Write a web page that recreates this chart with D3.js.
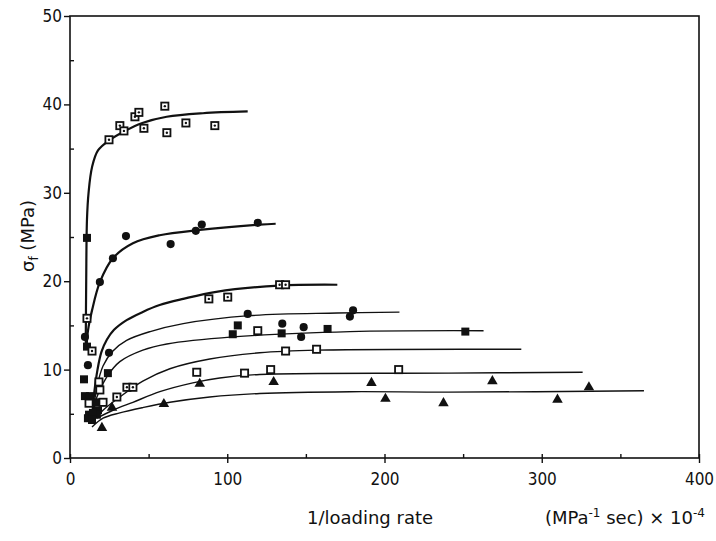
<!DOCTYPE html>
<html>
<head>
<meta charset="utf-8">
<script src="https://cdn.jsdelivr.net/npm/d3@7"></script>
<style>
body{margin:0;background:#fff;}
text{font-family:"DejaVu Sans Condensed","DejaVu Sans",sans-serif;fill:#111;}
</style>
</head>
<body>
<div id="canvas"></div>
<script>
// fitted curves: [1/loading rate, sigma_f]
var curve1 = [[10.0,12.5],[10.3,20],[10.8,27],[11.8,30],[14,32.9],[17.8,34.8],[25.4,36.0],[35,37.0],[46,37.9],[61.5,38.6],[84.5,39.0],[113,39.2]];
var curve2 = [[10.5,12.5],[11.5,14.5],[14,16.7],[19,19.9],[27.3,22.6],[40,24.3],[57,25.2],[82.5,25.8],[120.6,26.4],[130.8,26.5]];
var curve3 = [[14,4.5],[15.5,7.5],[17.5,10],[20,12],[23.5,13.4],[28,14.5],[36,15.6],[46,16.5],[57,17.3],[72,18.0],[93,18.8],[133,19.5],[170,19.6]];
var curve4 = [[14.6,5],[17.1,8],[21,10.4],[27.3,12.1],[36,13.3],[51,14.3],[72,15.2],[114,16.1],[170,16.4],[209.5,16.5]];
var curve5 = [[14.6,4.6],[17.1,6.9],[23.5,9.2],[31.7,10.9],[46.3,12.2],[61.6,12.9],[103.5,13.7],[178,14.3],[263,14.4]];
var curve6 = [[14.6,4.1],[21,5.4],[31.7,6.9],[46.3,8.7],[63.5,10.1],[88.9,11.2],[120.6,11.9],[157,12.2],[287,12.3]];
var curve7 = [[17.1,4.5],[27.3,5.4],[40,6.3],[57.1,7.5],[78.1,8.5],[95.2,9.05],[120.6,9.45],[241,9.6],[326,9.7]];
var curve8 = [[14,3.5],[21,4.5],[31.7,5.1],[46.3,5.7],[63.5,6.3],[88.9,6.9],[120.6,7.3],[178,7.5],[241,7.45],[365,7.6]];
var curves = [curve1,curve2,curve3,curve4,curve5,curve6,curve7,curve8];

// measured points by symbol
var dotSquares = [[10.8,15.8],[24.8,36.0],[31.7,37.6],[34.3,37.0],[41.3,38.6],[43.8,39.1],[47.0,37.3],[60.3,39.8],[61.6,36.8],[73.7,37.9],[92.1,37.6],
  [88.3,18.0],[100.3,18.2],[133.3,19.6],[137.1,19.6],[14,12.1],[29.8,6.9],[36.2,8.0],[40,8.0]];
var filledCircles = [[19,19.9],[27.3,22.6],[35.6,25.1],[64,24.2],[80,25.7],[83.8,26.4],[119.4,26.6],
  [113,16.3],[135,15.2],[148.6,14.8],[147,13.7],[178,16.0],[180,16.7],[9.5,13.7],[11.4,10.5],[24.8,11.9]];
var filledSquares = [[10.8,24.9],[106.7,15.0],[103.5,14.0],[134.6,14.1],[163.8,14.6],[251.4,14.3],
  [10.8,12.6],[24.1,9.6],[8.9,8.9],[9.5,7.0],[12.7,7.0],[17.1,6.3],[17.8,5.4],[12.1,4.9],[11.4,4.5],[17.1,4.9],[14.6,5.1],[14,4.3]];
var openSquares = [[119.4,14.4],[137.1,12.1],[156.8,12.3],[80.6,9.7],[111,9.6],[127.6,10.0],[209,10.0],
  [18.4,8.6],[19,7.7],[12.1,6.2],[21,6.3]];
var triangles = [[59.7,6.1],[82.5,8.4],[129.5,8.6],[191.7,8.5],[200.6,6.7],[237.5,6.2],[268.6,8.7],[310,6.6],[330,8.0],[26.7,5.7],[20.3,3.4]];

var xMajor = [0,100,200,300,400], xMinor = [50,150,250,350];
var yMajor = [0,10,20,30,40,50], yMinor = [5,15,25,35,45];

var m = {t:16,r:17,b:83,l:70},
    w = 716 - m.l - m.r,
    h = 541 - m.t - m.b;

var svg = d3.select('#canvas').append('svg')
    .attr('width',716).attr('height',541);
var plot = svg.append('g').attr('transform','translate('+m.l+','+m.t+')');

var x = d3.scaleLinear().domain([0,400]).range([0,w]);
var y = d3.scaleLinear().domain([0,50]).range([h,0]);

// frame
plot.append('rect').attr('width',w).attr('height',h)
    .attr('fill','none').attr('stroke','#111').attr('stroke-width',1.6);

// x axis
var gx = plot.append('g').attr('transform','translate(0,'+h+')')
    .call(d3.axisBottom(x).tickValues(xMajor).tickSize(5).tickPadding(10));
gx.selectAll('.tick line').attr('y1',-4).attr('y2',5);
plot.append('g').attr('transform','translate(0,'+h+')')
    .call(d3.axisBottom(x).tickValues(xMinor).tickSize(-4).tickFormat(''));

// y axis
var gy = plot.append('g')
    .call(d3.axisLeft(y).tickValues(yMajor).tickSize(6).tickPadding(2));
plot.append('g')
    .call(d3.axisLeft(y).tickValues(yMinor).tickSize(-4).tickFormat(''));

plot.selectAll('.domain').remove();
plot.selectAll('.tick line').attr('stroke','#111').attr('stroke-width',1.4);
plot.selectAll('.tick text').attr('font-size',17).attr('fill','#111')
    .style('font-family','"DejaVu Sans Condensed","DejaVu Sans",sans-serif');

// curves
var line = d3.line().x(function(d){return x(d[0]);}).y(function(d){return y(d[1]);})
    .curve(d3.curveCatmullRom.alpha(0.5));
plot.selectAll('.fit').data(curves).enter().append('path')
    .attr('class','fit')
    .attr('d',line)
    .attr('fill','none').attr('stroke','#111')
    .attr('stroke-width',function(d,i){return i<3 ? 2.2 : 1.4;});

// markers
function pos(d){return 'translate('+x(d[0])+','+y(d[1])+')';}

plot.selectAll('.fsq').data(filledSquares).enter().append('rect')
    .attr('x',-4).attr('y',-4).attr('width',8).attr('height',8)
    .attr('transform',pos).attr('fill','#111');

plot.selectAll('.osq').data(openSquares).enter().append('rect')
    .attr('x',-3.6).attr('y',-3.6).attr('width',7.2).attr('height',7.2)
    .attr('transform',pos).attr('fill','#fff').attr('stroke','#111').attr('stroke-width',1.8);

var ds = plot.selectAll('.dsq').data(dotSquares).enter().append('g').attr('transform',pos);
ds.append('rect').attr('x',-3.6).attr('y',-3.6).attr('width',7.2).attr('height',7.2)
    .attr('fill','#fff').attr('stroke','#111').attr('stroke-width',1.8);
ds.append('circle').attr('r',1.2).attr('fill','#111');

plot.selectAll('.fci').data(filledCircles).enter().append('path')
    .attr('d',d3.symbol().type(d3.symbolCircle).size(52))
    .attr('transform',pos).attr('fill','#111');

plot.selectAll('.tri').data(triangles).enter().append('path')
    .attr('d',d3.symbol().type(d3.symbolTriangle).size(48))
    .attr('transform',pos).attr('fill','#111');

// axis titles
var yl = svg.append('text').attr('transform','translate(34,236) rotate(-90)')
    .attr('text-anchor','middle').attr('font-size',18)
    .style('font-family','"DejaVu Sans",sans-serif');
yl.append('tspan').text('σ');
yl.append('tspan').attr('font-size',12).attr('dy',4).text('f');
yl.append('tspan').attr('dy',-4).text(' (MPa)');

svg.append('text').attr('x',370).attr('y',524).attr('text-anchor','middle')
    .attr('font-size',18).style('font-family','"DejaVu Sans",sans-serif')
    .text('1/loading rate');

var xu = svg.append('text').attr('x',705).attr('y',524).attr('text-anchor','end')
    .attr('font-size',18).style('font-family','"DejaVu Sans",sans-serif');
xu.append('tspan').text('(MPa');
xu.append('tspan').attr('font-size',12).attr('dy',-7).text('-1');
xu.append('tspan').attr('dy',7).text(' sec) × 10');
xu.append('tspan').attr('font-size',12).attr('dy',-7).text('-4');
</script>
</body>
</html>
